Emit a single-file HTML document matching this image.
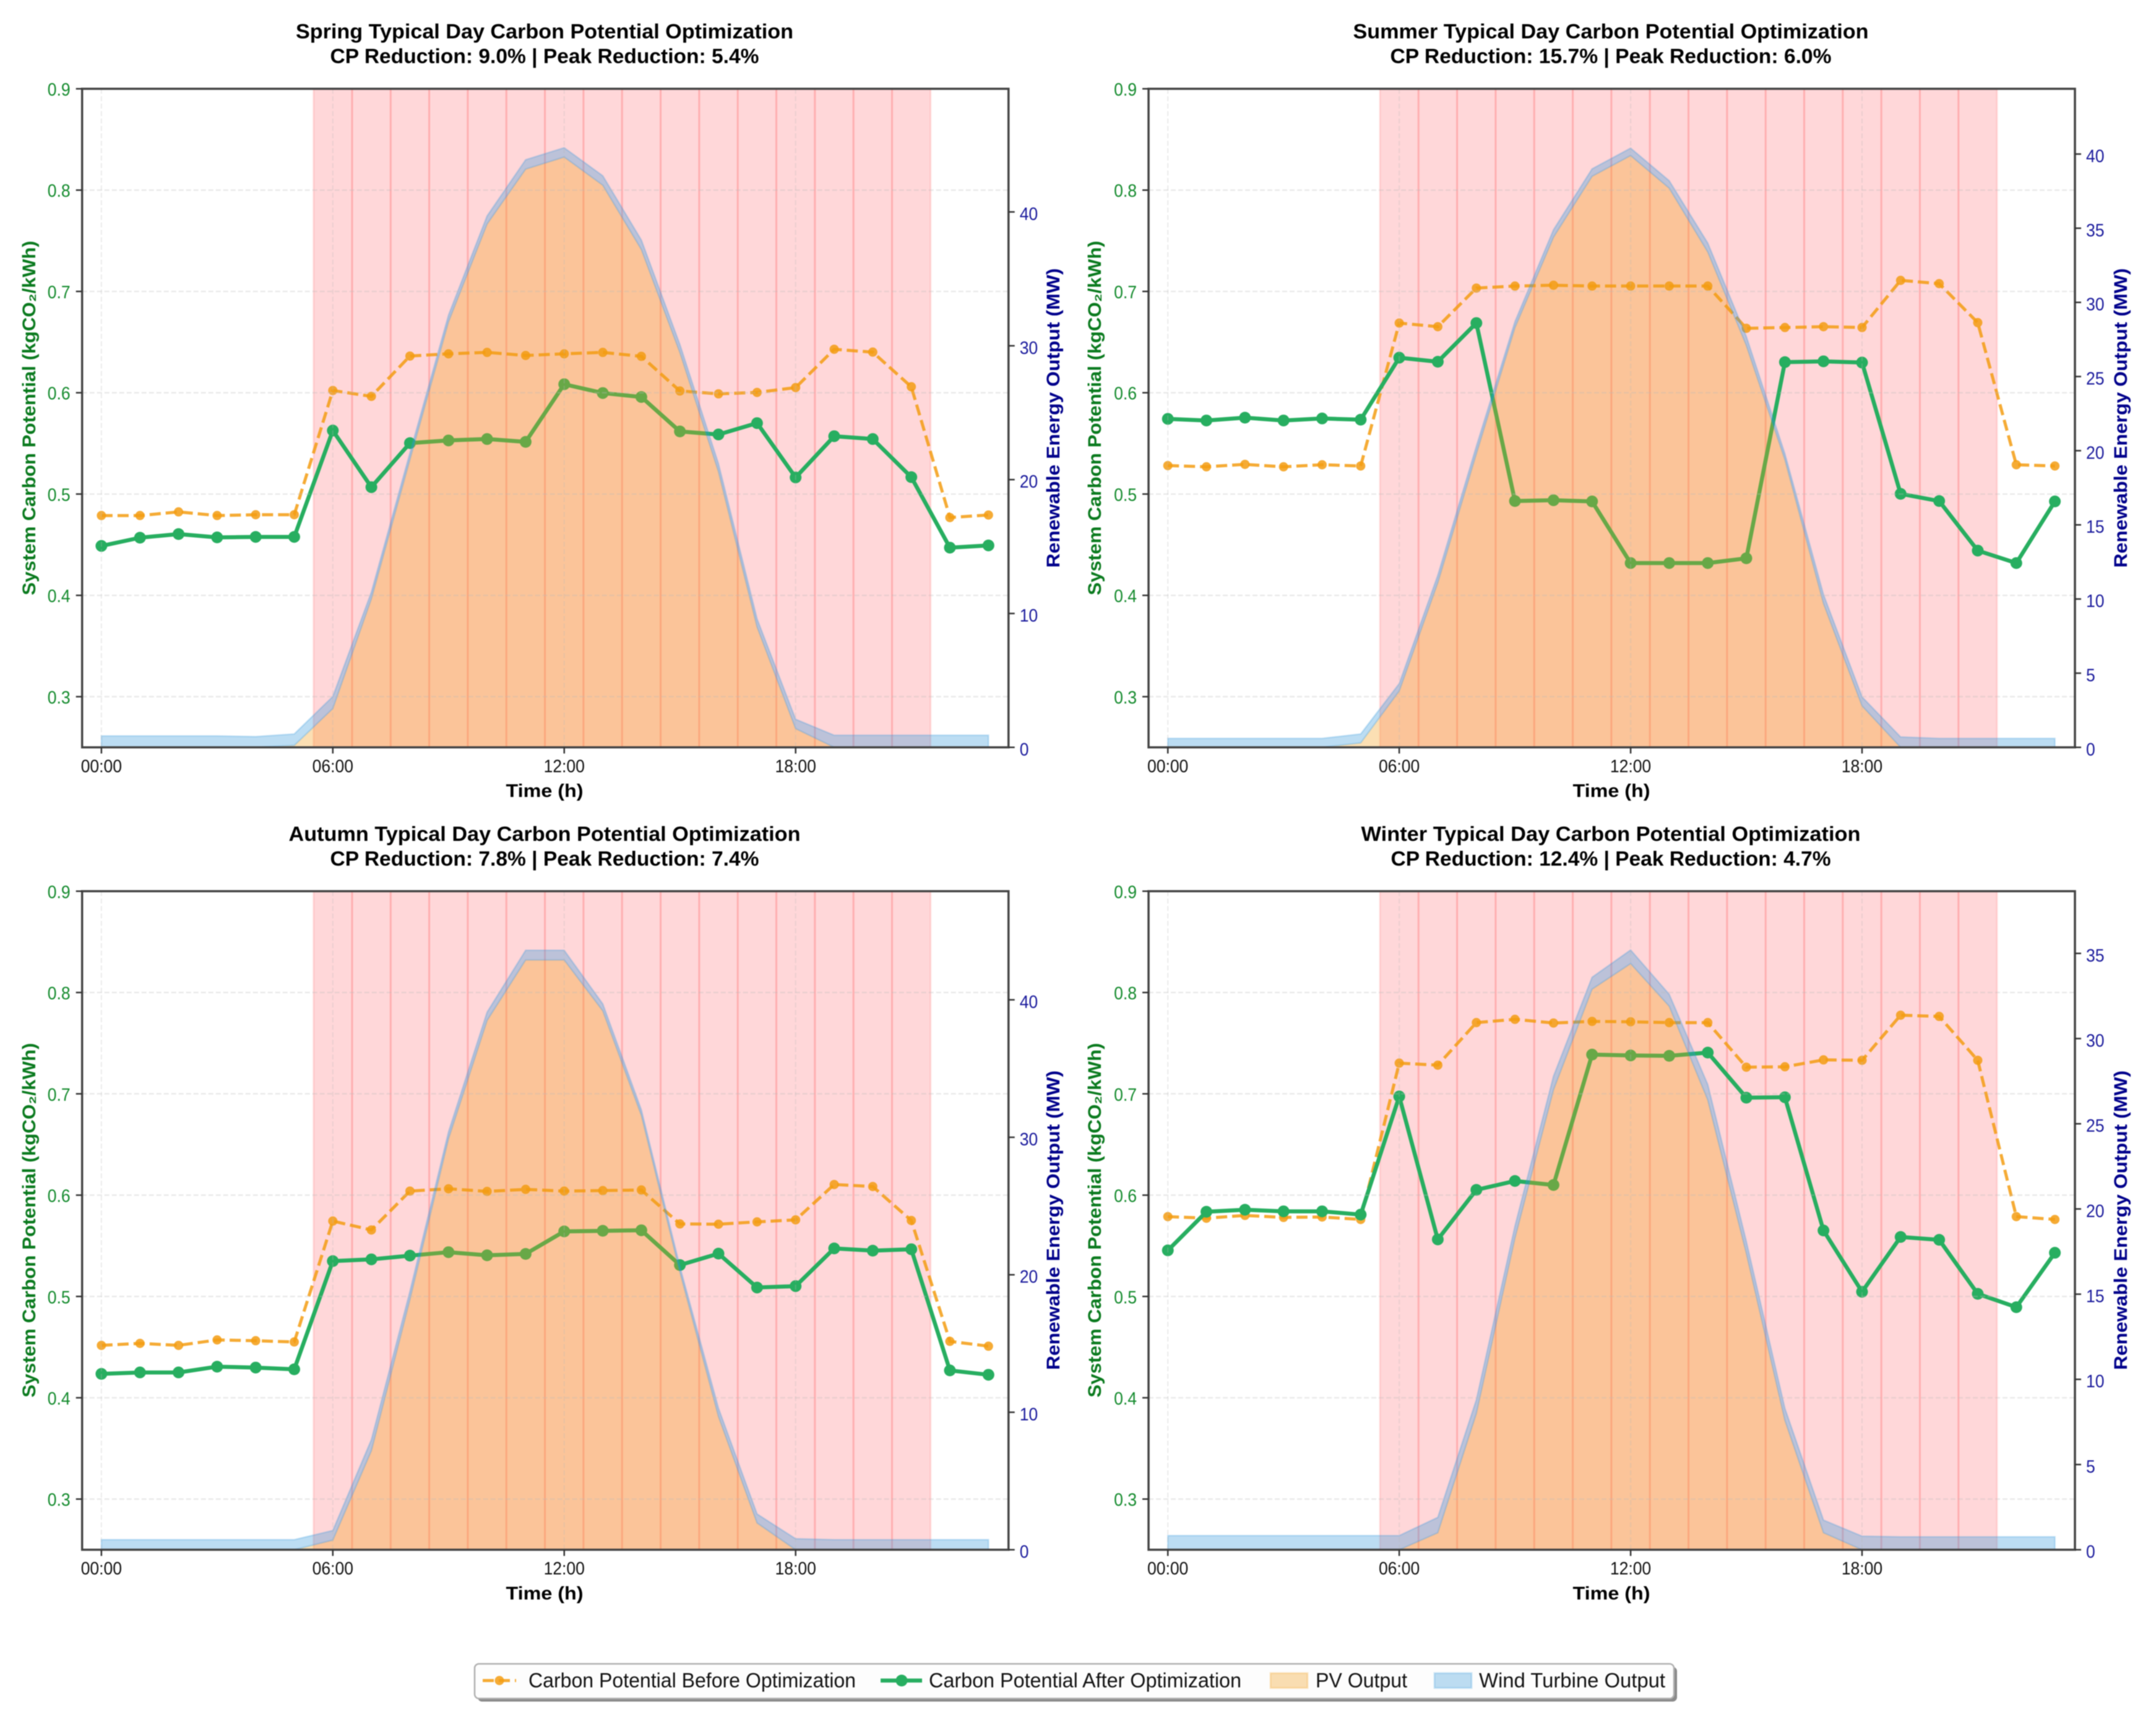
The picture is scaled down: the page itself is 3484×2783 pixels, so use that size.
<!DOCTYPE html>
<html lang="en">
<head>
<meta charset="utf-8">
<title>Typical Day Carbon Potential Optimization</title>
<style>
html,body{margin:0;padding:0;background:#fff;width:3484px;height:2783px;overflow:hidden}
svg{display:block;filter:blur(0.8px)}
text{font-family:"Liberation Sans","DejaVu Sans",sans-serif}
.title{font-size:33px;font-weight:700;fill:#000;text-anchor:middle}
.xlabel{font-size:30px;font-weight:700;fill:#000;text-anchor:middle}
.ylabel-left{font-size:30px;font-weight:700;fill:#0a7a1e;text-anchor:middle}
.ylabel-right{font-size:30px;font-weight:700;fill:#00008b;text-anchor:middle}
.legend-text{font-size:33px;fill:#111}
</style>
</head>
<body>
<svg id="chart" xmlns="http://www.w3.org/2000/svg" width="3484" height="2783" viewBox="0 0 3484 2783">
  <rect x="0" y="0" width="3484" height="2783" fill="#fff"/>
  <g id="plots"></g>

  <g>
    <text class="title" x="880" y="62" textLength="804" lengthAdjust="spacingAndGlyphs">Spring Typical Day Carbon Potential Optimization</text>
    <text class="title" x="880" y="102" textLength="693" lengthAdjust="spacingAndGlyphs">CP Reduction: 9.0% | Peak Reduction: 5.4%</text>
    <text class="xlabel" x="880" y="1288" textLength="125" lengthAdjust="spacingAndGlyphs">Time (h)</text>
    <text class="ylabel-left" transform="translate(57,675.5) rotate(-90)" textLength="573" lengthAdjust="spacingAndGlyphs">System Carbon Potential (kgCO₂/kWh)</text>
    <text class="ylabel-right" transform="translate(1712,675.5) rotate(-90)" textLength="484" lengthAdjust="spacingAndGlyphs">Renewable Energy Output (MW)</text>
  </g>
  <g>
    <text class="title" x="2603" y="62" textLength="833" lengthAdjust="spacingAndGlyphs">Summer Typical Day Carbon Potential Optimization</text>
    <text class="title" x="2603" y="102" textLength="713" lengthAdjust="spacingAndGlyphs">CP Reduction: 15.7% | Peak Reduction: 6.0%</text>
    <text class="xlabel" x="2604" y="1288" textLength="125" lengthAdjust="spacingAndGlyphs">Time (h)</text>
    <text class="ylabel-left" transform="translate(1779,675.5) rotate(-90)" textLength="573" lengthAdjust="spacingAndGlyphs">System Carbon Potential (kgCO₂/kWh)</text>
    <text class="ylabel-right" transform="translate(3437,675.5) rotate(-90)" textLength="484" lengthAdjust="spacingAndGlyphs">Renewable Energy Output (MW)</text>
  </g>
  <g>
    <text class="title" x="880" y="1359" textLength="827" lengthAdjust="spacingAndGlyphs">Autumn Typical Day Carbon Potential Optimization</text>
    <text class="title" x="880" y="1399" textLength="693" lengthAdjust="spacingAndGlyphs">CP Reduction: 7.8% | Peak Reduction: 7.4%</text>
    <text class="xlabel" x="880" y="2585" textLength="125" lengthAdjust="spacingAndGlyphs">Time (h)</text>
    <text class="ylabel-left" transform="translate(57,1972) rotate(-90)" textLength="573" lengthAdjust="spacingAndGlyphs">System Carbon Potential (kgCO₂/kWh)</text>
    <text class="ylabel-right" transform="translate(1712,1972) rotate(-90)" textLength="484" lengthAdjust="spacingAndGlyphs">Renewable Energy Output (MW)</text>
  </g>
  <g>
    <text class="title" x="2603" y="1359" textLength="807" lengthAdjust="spacingAndGlyphs">Winter Typical Day Carbon Potential Optimization</text>
    <text class="title" x="2603" y="1399" textLength="711" lengthAdjust="spacingAndGlyphs">CP Reduction: 12.4% | Peak Reduction: 4.7%</text>
    <text class="xlabel" x="2604" y="2585" textLength="125" lengthAdjust="spacingAndGlyphs">Time (h)</text>
    <text class="ylabel-left" transform="translate(1779,1972) rotate(-90)" textLength="573" lengthAdjust="spacingAndGlyphs">System Carbon Potential (kgCO₂/kWh)</text>
    <text class="ylabel-right" transform="translate(3437,1972) rotate(-90)" textLength="484" lengthAdjust="spacingAndGlyphs">Renewable Energy Output (MW)</text>
  </g>

  <g>
    <rect x="772" y="2694" width="1938" height="56" rx="7" fill="#8a8a8a"/>
    <rect x="767" y="2689" width="1938" height="56" rx="7" fill="#fdfdfd" stroke="#b0b0b0" stroke-width="2.5"/>
    <g>
      <line x1="780" y1="2716" x2="834" y2="2716" stroke="#f39c12" stroke-opacity="0.85" stroke-width="5" stroke-dasharray="18 8"/>
      <circle cx="807" cy="2716" r="7.5" fill="#f39c12" fill-opacity="0.85"/>
      <text class="legend-text" x="854" y="2727" textLength="529" lengthAdjust="spacingAndGlyphs">Carbon Potential Before Optimization</text>
    </g>
    <g>
      <line x1="1423" y1="2716" x2="1490" y2="2716" stroke="#27ae60" stroke-width="6.5"/>
      <circle cx="1457" cy="2716" r="9.5" fill="#27ae60"/>
      <text class="legend-text" x="1501" y="2727" textLength="505" lengthAdjust="spacingAndGlyphs">Carbon Potential After Optimization</text>
    </g>
    <g>
      <rect x="2053" y="2704" width="60" height="24" fill="#f39c12" fill-opacity="0.32" stroke="#f39c12" stroke-opacity="0.22" stroke-width="3"/>
      <text class="legend-text" x="2126" y="2727" textLength="148" lengthAdjust="spacingAndGlyphs">PV Output</text>
    </g>
    <g>
      <rect x="2318" y="2704" width="60" height="24" fill="#3498db" fill-opacity="0.32" stroke="#3498db" stroke-opacity="0.22" stroke-width="3"/>
      <text class="legend-text" x="2390" y="2727" textLength="301" lengthAdjust="spacingAndGlyphs">Wind Turbine Output</text>
    </g>
  </g>
</svg>

<script>
// ---- shared categories and ticks ----
const hours = [0,1,2,3,4,5,6,7,8,9,10,11,12,13,14,15,16,17,18,19,20,21,22,23];
const xTickHours = [0,6,12,18];
const xTickLabels = ['00:00','06:00','12:00','18:00'];
const carbonTicks = [0.3,0.4,0.5,0.6,0.7,0.8,0.9];
const carbonTickLabels = ['0.3','0.4','0.5','0.6','0.7','0.8','0.9'];
const peakHours = [6,7,8,9,10,11,12,13,14,15,16,17,18,19,20,21];

// ---- spring ----
const springBefore = [0.4788,0.4788,0.4824,0.4788,0.4796,0.4796,0.6022,0.5964,0.6362,0.6384,0.6398,0.6368,0.6384,0.6398,0.6359,0.6017,0.5989,0.6003,0.6051,0.6429,0.6401,0.6059,0.4768,0.4793];
const springAfter = [0.4488,0.4569,0.4605,0.4572,0.4577,0.4577,0.5627,0.5068,0.5503,0.5529,0.5543,0.5515,0.6084,0.5997,0.5958,0.5618,0.5588,0.5700,0.5164,0.5571,0.5543,0.5167,0.4471,0.4493];
const springPV = [0,0,0,0,0,0.15,2.9,11.1,21.5,31.8,39.1,43.2,44.1,42.0,37.2,29.5,20.6,9.0,1.4,0,0,0,0,0];
const springWind = [0.85,0.85,0.85,0.85,0.8,0.85,0.9,0.5,0.5,0.5,0.6,0.7,0.7,0.7,0.7,0.6,0.6,0.6,0.7,0.9,0.9,0.9,0.9,0.9];
const springPowerTicks = [0,10,20,30,40];
const springPowerMax = 49.2;

// ---- summer ----
const summerBefore = [0.5281,0.5269,0.5293,0.5269,0.5289,0.5277,0.6688,0.6652,0.7033,0.7053,0.7061,0.7053,0.7053,0.7053,0.7053,0.6636,0.6644,0.6652,0.6644,0.7109,0.7077,0.6692,0.5289,0.5277];
const summerAfter = [0.5742,0.5726,0.5754,0.5726,0.5746,0.5734,0.6346,0.6306,0.6688,0.4931,0.4939,0.4927,0.4319,0.4319,0.4319,0.4366,0.6302,0.6310,0.6298,0.5002,0.4931,0.4442,0.4319,0.4927];
const summerPV = [0,0,0,0,0,0.3,3.8,11.1,19.8,28.3,34.4,38.5,39.9,37.7,33.4,27.1,19.4,9.7,2.8,0,0,0,0,0];
const summerWind = [0.6,0.6,0.6,0.6,0.6,0.6,0.5,0.5,0.5,0.4,0.5,0.5,0.5,0.5,0.6,0.6,0.4,0.6,0.6,0.7,0.6,0.6,0.6,0.6];
const summerPowerTicks = [0,5,10,15,20,25,30,35,40];
const summerPowerMax = 44.4;

// ---- autumn ----
const autumnBefore = [0.4517,0.4537,0.4517,0.4571,0.4563,0.4551,0.5744,0.5656,0.6040,0.6063,0.6037,0.6057,0.6040,0.6045,0.6051,0.5716,0.5713,0.5736,0.5756,0.6105,0.6085,0.5750,0.4557,0.4509];
const autumnAfter = [0.4236,0.4250,0.4250,0.4307,0.4298,0.4281,0.5349,0.5366,0.5403,0.5437,0.5406,0.5420,0.5642,0.5648,0.5653,0.5310,0.5423,0.5088,0.5102,0.5474,0.5452,0.5466,0.4270,0.4227];
const autumnPV = [0,0,0,0,0,0,0.7,7.2,18.2,29.9,38.5,42.9,42.9,39.2,31.6,20.2,9.7,1.95,0,0,0,0,0,0];
const autumnWind = [0.73,0.73,0.73,0.73,0.73,0.73,0.7,0.8,0.6,0.5,0.6,0.7,0.7,0.5,0.4,0.4,0.6,0.65,0.8,0.73,0.73,0.73,0.73,0.73];
const autumnPowerTicks = [0,10,20,30,40];
const autumnPowerMax = 47.9;

// ---- winter ----
const winterBefore = [0.5788,0.5772,0.5800,0.5780,0.5784,0.5760,0.7303,0.7283,0.7703,0.7735,0.7699,0.7715,0.7711,0.7703,0.7703,0.7263,0.7267,0.7335,0.7331,0.7776,0.7764,0.7331,0.5788,0.5760];
const winterAfter = [0.5455,0.5836,0.5856,0.5840,0.5840,0.5808,0.6974,0.5563,0.6052,0.6140,0.6100,0.7387,0.7379,0.7375,0.7407,0.6962,0.6966,0.5651,0.5046,0.5587,0.5559,0.5026,0.4894,0.5431];
const winterPV = [0,0,0,0,0,0,0,1.0,8.0,18.3,27.0,32.9,34.4,31.9,26.4,17.4,7.6,1.0,0,0,0,0,0,0];
const winterWind = [0.83,0.83,0.83,0.83,0.83,0.83,0.83,0.9,0.8,0.7,0.8,0.7,0.8,0.7,0.9,0.7,0.7,0.74,0.8,0.76,0.76,0.76,0.76,0.76];
const winterPowerTicks = [0,5,10,15,20,25,30,35];
const winterPowerMax = 38.65;

// ---- rendering ----
const NS = 'http://www.w3.org/2000/svg';
const xMin = -0.5, xMax = 23.52;
const carbonMin = 0.25, carbonMax = 0.9;
const plotW = 1497, plotH = 1064.3;
const root = document.getElementById('plots');

function make(tag, parent, attrs) {
  const el = document.createElementNS(NS, tag);
  for (const k in attrs) el.setAttribute(k, attrs[k]);
  parent.appendChild(el);
  return el;
}

function narrow(label) {
  label.setAttribute('textLength', (label.getComputedTextLength() * 0.93).toFixed(1));
  label.setAttribute('lengthAdjust', 'spacingAndGlyphs');
}

function drawPanel(season, left, top, before, after, pv, wind, powerTicks, powerMax) {
  const xOf = h => left + (h - xMin) / (xMax - xMin) * plotW;
  const yCarbon = v => top + (carbonMax - v) / (carbonMax - carbonMin) * plotH;
  const yPower = m => top + plotH - m / powerMax * plotH;
  const bottom = top + plotH, right = left + plotW;

  const panel = make('g', root, {});
  
  

  // peak-period bands
  peakHours.forEach(h => {
    const band = make('rect', panel, {
      x: xOf(h - 0.5), y: top, width: xOf(h + 0.5) - xOf(h - 0.5), height: plotH,
      fill: 'rgb(255,50,60)', 'fill-opacity': 0.195, stroke: 'rgb(255,40,40)', 'stroke-opacity': 0.12, 'stroke-width': 3
    });
    
    
  });

  // carbon series sit beneath the twin-axis area fills
  const beforePts = hours.map((h, i) => xOf(h).toFixed(1) + ',' + yCarbon(before[i]).toFixed(1)).join(' ');
  const beforeLine = make('polyline', panel, {
    points: beforePts, fill: 'none', stroke: '#f39c12', 'stroke-opacity': 0.85, 'stroke-width': 5,
    'stroke-dasharray': '18 8', 'stroke-linejoin': 'round'
  });
  
  

  hours.forEach((h, i) => {
    const dot = make('circle', panel, { cx: xOf(h), cy: yCarbon(before[i]), r: 7.5, fill: '#f39c12', 'fill-opacity': 0.85 });
    
    
  });

  const afterPts = hours.map((h, i) => xOf(h).toFixed(1) + ',' + yCarbon(after[i]).toFixed(1)).join(' ');
  const afterLine = make('polyline', panel, {
    points: afterPts, fill: 'none', stroke: '#27ae60', 'stroke-width': 6.5, 'stroke-linejoin': 'round'
  });
  
  

  hours.forEach((h, i) => {
    const dot = make('circle', panel, { cx: xOf(h), cy: yCarbon(after[i]), r: 9.5, fill: '#27ae60' });
    
    
  });

  // stacked PV + wind areas
  const pvTop = hours.map((h, i) => xOf(h).toFixed(1) + ',' + yPower(pv[i]).toFixed(1));
  const pvArea = make('polygon', panel, {
    points: pvTop.join(' ') + ' ' + xOf(23).toFixed(1) + ',' + bottom + ' ' + xOf(0).toFixed(1) + ',' + bottom,
    fill: '#f39c12', 'fill-opacity': 0.32
  });
  
  

  const windTop = hours.map((h, i) => xOf(h).toFixed(1) + ',' + yPower(pv[i] + wind[i]).toFixed(1));
  const windArea = make('polygon', panel, {
    points: windTop.join(' ') + ' ' + pvTop.slice().reverse().join(' '),
    fill: '#3498db', 'fill-opacity': 0.33, stroke: '#3498db', 'stroke-opacity': 0.26, 'stroke-width': 2.5
  });
  
  

  // grid
  carbonTicks.forEach(v => {
    if (v >= carbonMax) return;
    const g = make('line', panel, {
      x1: left, x2: right, y1: yCarbon(v), y2: yCarbon(v),
      stroke: '#b8b8b8', 'stroke-opacity': 0.3, 'stroke-width': 2.5, 'stroke-dasharray': '8 4'
    });
    
    
  });
  xTickHours.forEach(h => {
    const g = make('line', panel, {
      x1: xOf(h), x2: xOf(h), y1: top, y2: bottom,
      stroke: '#b8b8b8', 'stroke-opacity': 0.28, 'stroke-width': 2, 'stroke-dasharray': '8 4'
    });
    
    
  });

  // frame
  const frame = make('rect', panel, { x: left, y: top, width: plotW, height: plotH, fill: 'none', stroke: '#444', 'stroke-width': 3.5 });
  
  

  // x ticks
  xTickHours.forEach((h, i) => {
    const t = make('line', panel, { x1: xOf(h), x2: xOf(h), y1: bottom, y2: bottom + 10, stroke: '#333', 'stroke-width': 2.5 });
    
    
    const label = make('text', panel, { x: xOf(h), y: bottom + 40, 'text-anchor': 'middle', 'font-size': 28.5, fill: '#111' });
    
    
    label.textContent = xTickLabels[i];
    narrow(label);
  });

  // left ticks
  carbonTicks.forEach((v, i) => {
    const t = make('line', panel, { x1: left - 10, x2: left, y1: yCarbon(v), y2: yCarbon(v), stroke: '#333', 'stroke-width': 2.5 });
    
    
    const label = make('text', panel, { x: left - 19, y: yCarbon(v) + 11, 'text-anchor': 'end', 'font-size': 28.5, fill: '#138a2c' });
    
    
    label.textContent = carbonTickLabels[i];
    narrow(label);
  });

  // right ticks
  powerTicks.forEach(m => {
    const t = make('line', panel, { x1: right, x2: right + 10, y1: yPower(m), y2: yPower(m), stroke: '#333', 'stroke-width': 2.5 });
    
    
    const label = make('text', panel, { x: right + 18, y: yPower(m) + 13, 'font-size': 28.5, fill: '#1a1a9c' });
    
    
    label.textContent = String(m);
    narrow(label);
  });
}

drawPanel('spring', 132.7, 143.5, springBefore, springAfter, springPV, springWind, springPowerTicks, springPowerMax);
drawPanel('summer', 1856, 143.5, summerBefore, summerAfter, summerPV, summerWind, summerPowerTicks, summerPowerMax);
drawPanel('autumn', 132.7, 1440.3, autumnBefore, autumnAfter, autumnPV, autumnWind, autumnPowerTicks, autumnPowerMax);
drawPanel('winter', 1856, 1440.3, winterBefore, winterAfter, winterPV, winterWind, winterPowerTicks, winterPowerMax);
</script>
</body>
</html>
